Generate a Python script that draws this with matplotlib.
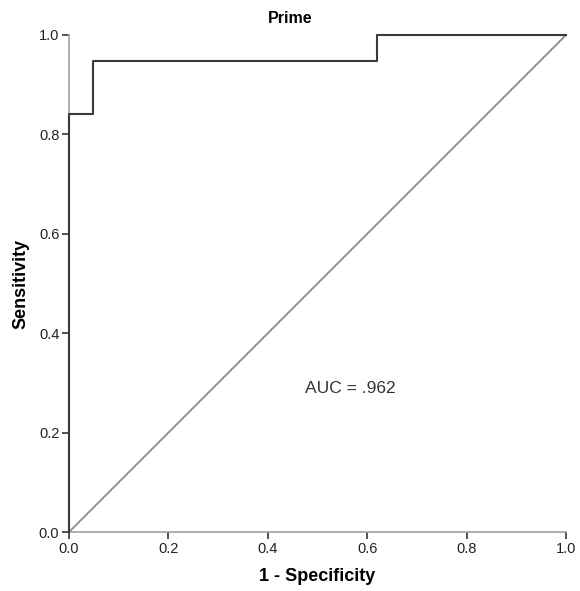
import matplotlib.pyplot as plt

plt.rcParams['font.family'] = ['Liberation Sans', 'DejaVu Sans']

# ROC step points (1 - specificity, sensitivity)
fpr = [0.0, 0.0, 0.048, 0.048, 0.62, 0.62, 1.0]
tpr = [0.0, 0.842, 0.842, 0.947, 0.947, 1.0, 1.0]
ref_line = [0.0, 1.0]
ticks = [0.0, 0.2, 0.4, 0.6, 0.8, 1.0]
auc_text = "AUC = .962"

fig = plt.figure(figsize=(5.8, 5.91), dpi=100)
ax = fig.add_axes([0.119, 0.0998, 0.857, 0.841])

ax.plot(ref_line, ref_line, color='#8c8c8c', linewidth=1.3, zorder=2)
ax.plot(fpr, tpr, color='#3a3a3a', linewidth=1.5, zorder=3, clip_on=False)

ax.set_xlim(0, 1)
ax.set_ylim(0, 1)
ax.set_xticks(ticks)
ax.set_yticks(ticks)
ax.set_xticklabels([f"{t:.1f}" for t in ticks])
ax.set_yticklabels([f"{t:.1f}" for t in ticks])

for side in ['top', 'right']:
    ax.spines[side].set_visible(False)
for side in ['left', 'bottom']:
    ax.spines[side].set_color('#a0a0a0')
    ax.spines[side].set_linewidth(1.2)

ax.tick_params(direction='out', length=5, width=1.2, color='#333333',
               labelsize=10.5, labelcolor='#222222', pad=2)

ax.set_xlabel("1 - Specificity", fontsize=13, fontweight='bold', labelpad=9)
ax.set_ylabel("Sensitivity", fontsize=13, fontweight='bold', labelpad=7)
fig.text(0.5, 0.968, "Prime", ha='center', va='center', fontsize=11.5, fontweight='bold')

ax.text(0.475, 0.288, auc_text, ha='left', va='center', fontsize=12.5, color='#333333')

fig.savefig("out.png", dpi=100)
